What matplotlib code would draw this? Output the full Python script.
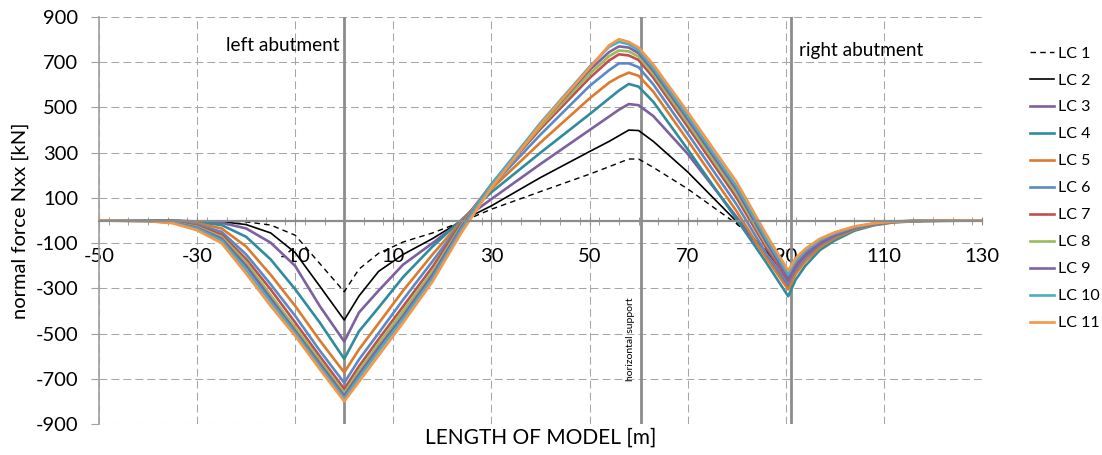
import matplotlib
matplotlib.use("Agg")
import matplotlib.pyplot as plt
from matplotlib.ticker import MultipleLocator

plt.rcParams['font.family'] = ['Lato', 'DejaVu Sans']
plt.rcParams['axes.unicode_minus'] = False

# sample positions along the model [m]
x = [-50, -40, -35, -30, -25, -20, -15, -10, -5, 0, 3, 7, 12, 18, 24, 30, 40, 50,
     54, 56, 58, 60, 63, 70, 80, 86, 90.5, 92, 94, 97, 100, 104, 108, 112, 118, 130]

lc1 = [0, 0, 0, -1, -2, -6, -20, -65, -190, -315, -215, -145, -95, -55, -5, 50, 128, 205,
       238, 255, 272, 272, 235, 140, -15, -125, -235, -175, -130, -85, -56, -28, -12, -5, -1, 0]
lc2 = [0, 0, 0, -2, -5, -18, -55, -142, -290, -440, -334, -225, -150, -80, 0, 65, 190, 305,
       350, 375, 400, 398, 350, 215, -5, -135, -255, -190, -142, -93, -62, -31, -14, -5, -1, 0]
lc3 = [0, 0, -1, -4, -10, -35, -98, -201, -378, -535, -407, -310, -195, -100, 0, 95, 250, 400,
       460, 490, 515, 510, 462, 295, 15, -160, -290, -222, -165, -110, -72, -37, -17, -6, -1, 0]
lc4 = [0, 0, -2, -7, -20, -72, -172, -304, -451, -612, -490, -385, -250, -115, 5, 125, 300, 470,
       540, 575, 604, 592, 525, 315, 5, -185, -335, -262, -200, -130, -88, -45, -21, -8, -2, 0]
lc5 = [0, 0, -3, -12, -35, -115, -240, -378, -530, -672, -570, -455, -310, -150, 0, 140, 345, 540,
       610, 635, 654, 640, 570, 355, 40, -165, -305, -237, -180, -118, -78, -40, -19, -7, -2, 0]
lc6 = [0, -1, -5, -18, -50, -150, -282, -422, -575, -718, -615, -498, -350, -180, -5, 150, 380, 595,
       665, 695, 695, 678, 602, 385, 70, -145, -280, -215, -163, -107, -70, -36, -17, -6, -1, 0]
lc7 = [0, -1, -6, -24, -62, -170, -305, -451, -600, -745, -645, -525, -380, -205, -10, 160, 405, 630,
       708, 735, 730, 710, 632, 415, 100, -120, -265, -202, -153, -100, -65, -33, -15, -5, -1, 0]
lc8 = [0, -1, -8, -28, -72, -185, -330, -473, -618, -763, -665, -545, -400, -225, -18, 160, 415, 648,
       727, 752, 748, 725, 648, 432, 118, -105, -250, -190, -143, -93, -61, -31, -14, -5, -1, 0]
lc9 = [0, -2, -9, -32, -80, -200, -345, -488, -632, -775, -680, -562, -420, -240, -25, 160, 425, 665,
       745, 770, 765, 740, 662, 448, 135, -95, -258, -197, -148, -96, -63, -32, -15, -5, -1, 0]
lc10 = [0, -2, -10, -36, -88, -218, -360, -498, -645, -787, -695, -578, -435, -255, -35, 160, 432, 680,
        768, 790, 780, 752, 675, 462, 150, -80, -238, -180, -135, -87, -57, -29, -13, -4, -1, 0]
lc11 = [0, -3, -12, -43, -100, -235, -378, -510, -657, -800, -713, -597, -452, -270, -50, 145, 425, 675,
        775, 802, 790, 765, 690, 480, 170, -60, -222, -167, -125, -80, -52, -26, -12, -4, -1, 0]

series = [lc1, lc2, lc3, lc4, lc5, lc6, lc7, lc8, lc9, lc10, lc11]
labels = ['LC 1', 'LC 2', 'LC 3', 'LC 4', 'LC 5', 'LC 6', 'LC 7', 'LC 8', 'LC 9', 'LC 10', 'LC 11']
colors = ['black', 'black', '#7D60A0', '#2F8C9E', '#DC7A2E', '#5A8AC6', '#C0504D',
          '#9BBB59', '#8064A2', '#4BACC6', '#F79646']

supports = [0, 60.5, 91]
gray = '#8C8C8C'

fig = plt.figure(figsize=(11.02, 4.55), dpi=100)
ax = fig.add_axes([0.0898, 0.0681, 0.8013, 0.8945])

for i, (y, lab, c) in enumerate(zip(series, labels, colors)):
    if i == 0:
        ax.plot(x, y, color=c, lw=1.0, ls=(0, (4, 3)), label=lab)
    elif i == 1:
        ax.plot(x, y, color=c, lw=1.2, label=lab)
    else:
        ax.plot(x, y, color=c, lw=1.9, label=lab)

for s in supports:
    ax.axvline(s, color=gray, lw=2, zorder=1)

ax.set_xlim(-50, 130)
ax.set_ylim(-900, 900)
ax.xaxis.set_minor_locator(MultipleLocator(4))
ax.set_xticks(range(-50, 131, 20))
ax.set_yticks(range(-900, 901, 200))
ax.grid(True, which='major', color='#A6A6A6', lw=0.75, ls=(0, (7.5, 4)))
ax.set_axisbelow(True)

for side in ['top', 'right']:
    ax.spines[side].set_visible(False)
ax.spines['bottom'].set_position(('data', 0))
ax.spines['bottom'].set_color(gray)
ax.spines['bottom'].set_linewidth(1.6)
ax.spines['left'].set_color('#A0A0A0')
ax.spines['left'].set_linewidth(1.2)

ax.tick_params(axis='x', which='both', direction='inout', length=6, color=gray,
               labelsize=14.5, pad=17)
ax.tick_params(axis='y', direction='out', length=6, color='#A0A0A0', labelsize=14.5, pad=9)

ax.text(-0.9, 772, 'left abutment', ha='right', va='center', fontsize=13.7)
ax.text(92.7, 754, 'right abutment', ha='left', va='center', fontsize=13.7)
ax.text(58.3, -525, 'horizontal support', rotation=90, ha='center', va='center', fontsize=7.5)

fig.text(541 / 1102, 1 - 438 / 455, 'LENGTH OF MODEL [m]', ha='center', va='center', fontsize=15)
fig.text(20 / 1102, 1 - 221 / 455, 'normal force Nxx [kN]', ha='center', va='center',
         rotation=90, fontsize=14.5)

leg = fig.legend(loc='upper left', bbox_to_anchor=(1024 / 1102, 1 - 40 / 455), frameon=False,
                 fontsize=11.5, handlelength=1.5, handletextpad=0.2, labelspacing=0.8,
                 borderaxespad=0)

fig.savefig('out.png', dpi=100)
